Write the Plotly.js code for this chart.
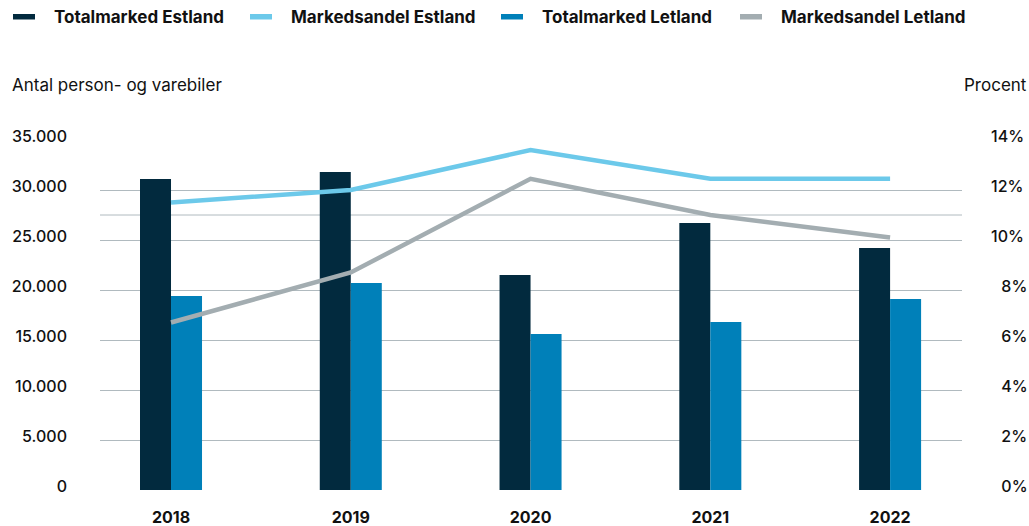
<!DOCTYPE html>
<html><head><meta charset="utf-8">
<script src="https://cdn.plot.ly/plotly-3.0.1.min.js"></script>
<style>html,body{margin:0;padding:0;background:#fff}#chart{width:1029px;height:526px}</style>
</head><body><div id="chart"></div>
<script>
const years = ['2018', '2019', '2020', '2021', '2022'];
const totalEstland = [31100, 31800, 21500, 26700, 24200];
const totalLetland = [19400, 20700, 15600, 16800, 19100];
const shareEstland = [11.5, 12.0, 13.6, 12.45, 12.45];
const shareLetland = [6.7, 8.7, 12.45, 11.0, 10.1];
const seriesNames = ['Totalmarked Estland', 'Markedsandel Estland', 'Totalmarked Letland', 'Markedsandel Letland'];
const leftTickVals = [0, 5000, 10000, 15000, 20000, 25000, 30000, 35000];
const rightTickVals = [0, 2, 4, 6, 8, 10, 12, 14];
const rightTickText = ['\u20070%', '\u20072%', '\u20074%', '\u20076%', '\u20078%', '10%', '12%', '14%'];
const leftTitle = 'Antal person- og varebiler';
const rightTitle = 'Procent';

const colors = ['#022a3e', '#6cc9ea', '#0080b9', '#a3adb1'];
const FONT = 'Inter, Roboto, "Noto Sans", sans-serif';
const W = 1029, H = 526;
const M = {l: 100, r: 67, t: 140, b: 36};
const pw = W - M.l - M.r, ph = H - M.t - M.b;
const px = x => (x - M.l) / pw;
const py = y => (H - M.b - y) / ph;

const traces = [
  {type: 'bar', name: seriesNames[0], x: years, y: totalEstland, marker: {color: colors[0]}, yaxis: 'y', showlegend: false, hoverinfo: 'none'},
  {type: 'bar', name: seriesNames[2], x: years, y: totalLetland, marker: {color: colors[2]}, yaxis: 'y', showlegend: false, hoverinfo: 'none'},
  {type: 'scatter', mode: 'lines', name: seriesNames[1], x: years, y: shareEstland, line: {color: colors[1], width: 4.5}, yaxis: 'y2', showlegend: false, hoverinfo: 'none'},
  {type: 'scatter', mode: 'lines', name: seriesNames[3], x: years, y: shareLetland, line: {color: colors[3], width: 4.5}, yaxis: 'y2', showlegend: false, hoverinfo: 'none'}
];

// custom legend
const legX = [13, 250, 501, 740];
const shapes = [];
const annotations = [];
seriesNames.forEach((n, i) => {
  shapes.push({type: 'rect', xref: 'paper', yref: 'paper', x0: px(legX[i]), x1: px(legX[i] + 22), y0: py(19.5), y1: py(14), fillcolor: colors[i], line: {width: 0}});
  annotations.push({xref: 'paper', yref: 'paper', x: px(legX[i] + 39), y: py(17), xanchor: 'left', yanchor: 'middle', showarrow: false, text: n, font: {family: FONT, size: 17, color: '#111', weight: 700}});
});
annotations.push({xref: 'paper', yref: 'paper', x: px(10), y: py(85), xanchor: 'left', yanchor: 'middle', showarrow: false, text: leftTitle, font: {family: FONT, size: 17, color: '#111'}});
annotations.push({xref: 'paper', yref: 'paper', x: px(1029), y: py(85), xanchor: 'right', yanchor: 'middle', showarrow: false, text: rightTitle, font: {family: FONT, size: 17, color: '#111'}});
// extra gridline seen in the reference
shapes.push({type: 'line', xref: 'paper', x0: 0, x1: 1, yref: 'y', y0: 27500, y1: 27500, line: {color: '#b0babf', width: 1}, layer: 'below'});

const layout = {
  width: W, height: H,
  margin: M,
  paper_bgcolor: '#fff', plot_bgcolor: '#fff',
  separators: ',.',
  barmode: 'group', bargap: 0.655, bargroupgap: 0,
  showlegend: false,
  font: {family: FONT, color: '#111'},
  xaxis: {type: 'category', range: [-0.395, 4.40], showgrid: false, zeroline: false, showline: false, ticks: '',
    tickfont: {family: FONT, size: 16, color: '#111', weight: 700}, ticklabelstandoff: 16, fixedrange: true},
  yaxis: {range: [0, 35000], tickvals: leftTickVals, tickformat: ',d', showgrid: true, gridcolor: '#b0babf', gridwidth: 1,
    zeroline: false, showline: false, ticks: '', tickfont: {family: FONT, size: 16, color: '#111', weight: 500}, ticklabelstandoff: 32, ticklabelshift: -4, fixedrange: true},
  yaxis2: {range: [0, 14], overlaying: 'y', side: 'right', tickvals: rightTickVals, ticktext: rightTickText, showgrid: false, zeroline: false, showline: false, ticks: '',
    tickfont: {family: FONT, size: 16, color: '#111', weight: 500}, ticklabelstandoff: 28, ticklabelshift: -4, fixedrange: true},
  shapes: shapes,
  annotations: annotations
};
Plotly.newPlot('chart', traces, layout, {displayModeBar: false, staticPlot: true});
</script>
</body></html>
